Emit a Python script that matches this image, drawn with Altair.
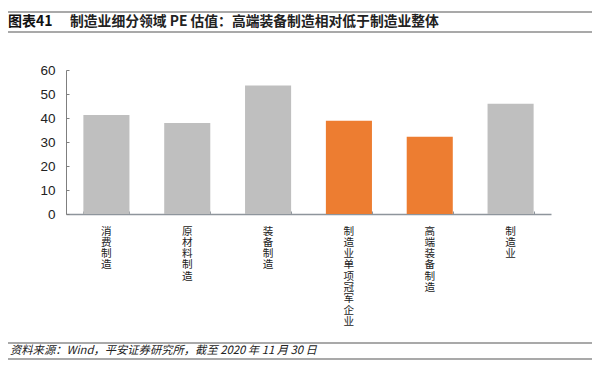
import altair as alt
import pandas as pd

categories = ["消费制造", "原材料制造", "装备制造", "制造业单项冠军企业", "高端装备制造", "制造业"]
values = [41.3, 37.9, 53.5, 38.9, 32.2, 45.9]
groups = ["其他", "其他", "其他", "重点", "重点", "其他"]
y_ticks = [0, 10, 20, 30, 40, 50, 60]

title_tag = "图表41"
title_text = "制造业细分领域 PE 估值：高端装备制造相对低于制造业整体"
source_text = "资料来源：Wind，平安证券研究所，截至 2020 年 11 月 30 日"

df = pd.DataFrame({"cat": categories, "val": values, "grp": groups})
one = pd.DataFrame({"a": [0]})

W, H = 485, 144
xscale = alt.Scale(paddingInner=0.43, paddingOuter=0.215)
yscale = alt.Scale(domain=[0, 60], nice=False)

bars = alt.Chart(df).mark_bar().encode(
    x=alt.X("cat:N", sort=categories, scale=xscale, title=None,
            axis=alt.Axis(orient="bottom", labelAngle=0, ticks=False,
                          domain=True, domainColor="#8E959C", domainWidth=1.5,
                          labelExpr="split(datum.label, '')",
                          labelFont="Noto Sans CJK SC", labelFontSize=10.6,
                          labelLineHeight=11.3, labelColor="#222222",
                          labelPadding=12, labelBaseline="top")),
    y=alt.Y("val:Q", scale=yscale, title=None,
            axis=alt.Axis(orient="left", values=y_ticks, ticks=False, grid=False,
                          domain=True, domainColor="#7F7F7F", domainWidth=1,
                          labelFont="Liberation Sans", labelFontSize=13.5,
                          labelColor="#222222", labelPadding=11)),
    color=alt.Color("grp:N", scale=alt.Scale(domain=["其他", "重点"],
                                             range=["#BFBFBF", "#ED7D31"]),
                    legend=None),
)

ticks_layer = alt.Chart(df).mark_point(opacity=0).encode(
    x=alt.X("cat:N", sort=categories, scale=xscale, title=None,
            axis=alt.Axis(orient="top", offset=-H, labels=False, domain=False,
                          ticks=True, tickSize=3, tickColor="#8E959C",
                          tickBand="extent")),
    y=alt.Y("val:Q", scale=yscale, title=None,
            axis=alt.Axis(orient="right", offset=-W, values=y_ticks, labels=False,
                          domain=False, grid=False, ticks=True, tickSize=3,
                          tickColor="#7F7F7F")),
)

def hline(y):
    return alt.Chart(one).mark_rule(color="#8C8C8C", strokeWidth=1.3).encode(
        x=alt.value(-58), x2=alt.value(526), y=alt.value(y))

tag = alt.Chart(one).mark_text(align="left", baseline="middle", fontSize=14,
                               fontWeight="bold", font="Noto Sans CJK SC",
                               color="#111111").encode(
    x=alt.value(-58), y=alt.value(-48), text=alt.value(title_tag))
ttl = alt.Chart(one).mark_text(align="left", baseline="middle", fontSize=13.8,
                               fontWeight="bold", font="Noto Sans CJK SC",
                               color="#222222").encode(
    x=alt.value(4), y=alt.value(-48), text=alt.value(title_text))
src = alt.Chart(one).mark_text(align="left", baseline="middle", fontSize=11.3,
                               fontStyle="italic", font="Noto Sans CJK SC",
                               color="#222222").encode(
    x=alt.value(-56), y=alt.value(281), text=alt.value(source_text))

chart = alt.layer(
    bars, ticks_layer,
    hline(-58), hline(-38), tag, ttl,
    hline(273), hline(289), src,
).resolve_axis(x="independent", y="independent").properties(
    width=W, height=H,
    autosize=alt.AutoSizeParams(type="none"),
    padding={"left": 58, "top": 62, "right": 41, "bottom": 150},
    background="white",
).configure_view(stroke=None)

chart.save("out.html", embed_options={"renderer": "svg", "actions": False})
